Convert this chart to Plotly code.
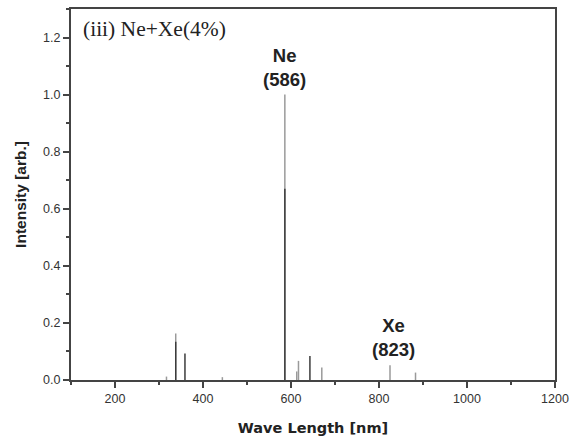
import plotly.graph_objects as go

# Emission lines (wavelength nm, relative intensity)
gray_wl = [317, 338, 444, 586, 613, 617, 670, 825, 883]
gray_int = [0.012, 0.163, 0.010, 1.0, 0.030, 0.067, 0.044, 0.052, 0.026]
dark_wl = [338, 359, 586, 643]
dark_int = [0.134, 0.093, 0.67, 0.084]

x_ticks = [200, 400, 600, 800, 1000, 1200]
y_ticks = [0.0, 0.2, 0.4, 0.6, 0.8, 1.0, 1.2]


def stems(wl, h):
    xs, ys = [], []
    for w, v in zip(wl, h):
        xs += [w, w, None]
        ys += [0, v, None]
    return xs, ys


fig = go.Figure()
gx, gy = stems(gray_wl, gray_int)
fig.add_trace(go.Scatter(x=gx, y=gy, mode="lines",
                         line=dict(color="#9a9a9a", width=1.5),
                         showlegend=False, hoverinfo="skip"))
dx, dy = stems(dark_wl, dark_int)
fig.add_trace(go.Scatter(x=dx, y=dy, mode="lines",
                         line=dict(color="#3c3c3c", width=1.5),
                         showlegend=False, hoverinfo="skip"))

axis_common = dict(
    showline=True, linecolor="#444", linewidth=2, mirror=True,
    showgrid=False, zeroline=False, ticks="outside", ticklen=6,
    tickwidth=1.5, tickcolor="#444", automargin=False,
    tickfont=dict(family="Arial, Liberation Sans", size=12.5, color="#333"),
)

fig.update_layout(
    width=579, height=436,
    margin=dict(l=71, r=24, t=9, b=56),
    paper_bgcolor="white", plot_bgcolor="white",
    xaxis=dict(range=[100, 1200], tickvals=x_ticks,
               minor=dict(dtick=100, tick0=100, ticks="outside", ticklen=3,
                          tickcolor="#444"),
               title=dict(text="<b>Wave Length [nm]</b>", standoff=19,
                          font=dict(family="DejaVu Sans", size=14.5, color="#222")),
               **axis_common),
    yaxis=dict(range=[0, 1.3], tickvals=y_ticks, tickformat=".1f",
               minor=dict(dtick=0.1, tick0=0, ticks="outside", ticklen=3,
                          tickcolor="#444"),
               title=dict(text="<b>Intensity [arb.]</b>", standoff=13,
                          font=dict(family="Arial, Liberation Sans", size=15.5, color="#222")),
               **axis_common),
)

fig.add_annotation(x=0.02, y=0.985, xref="paper", yref="paper", xanchor="left",
                   yanchor="top", showarrow=False,
                   text="(iii) Ne+Xe(4%)",
                   font=dict(family="Liberation Serif, Times New Roman", size=21.5, color="#222"))
fig.add_annotation(x=586, y=1.01, xref="x", yref="y", showarrow=False,
                   yanchor="bottom", align="center",
                   text="<b>Ne</b><br><b>(586)</b>",
                   font=dict(family="Arial, Liberation Sans", size=18.5, color="#222"))
fig.add_annotation(x=832, y=0.063, xref="x", yref="y", showarrow=False,
                   yanchor="bottom", align="center",
                   text="<b>Xe</b><br><b>(823)</b>",
                   font=dict(family="Arial, Liberation Sans", size=18.5, color="#222"))

fig.write_html("out.html")
